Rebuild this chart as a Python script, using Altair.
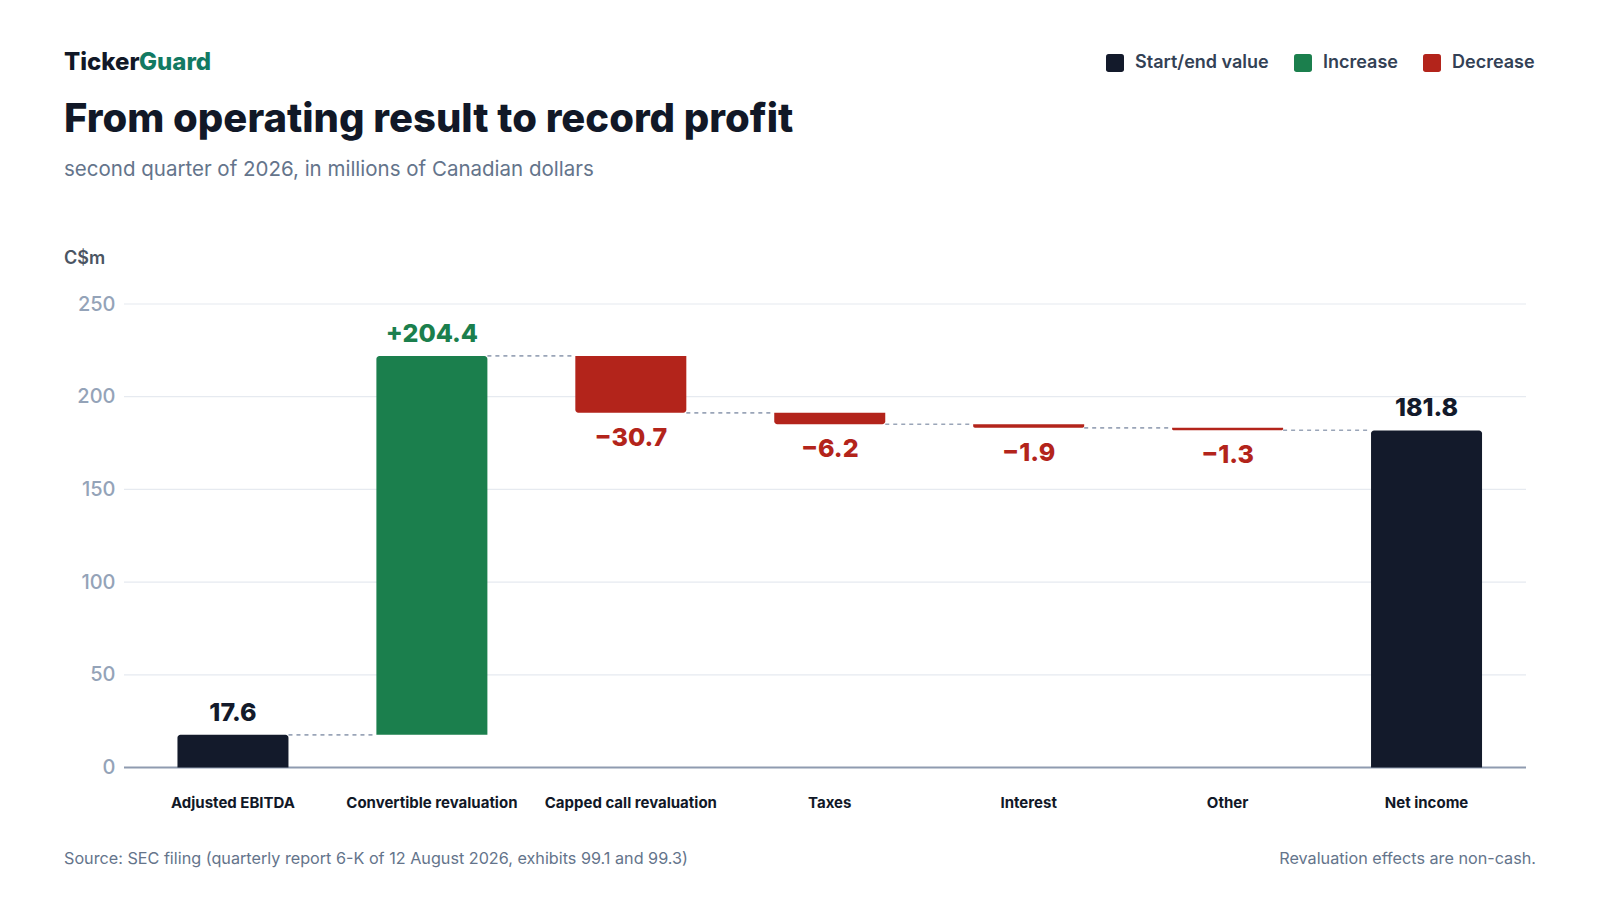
import altair as alt
import pandas as pd

# ---- data ----
categories = ["Adjusted EBITDA", "Convertible revaluation", "Capped call revaluation",
              "Taxes", "Interest", "Other", "Net income"]
amounts = [17.6, 204.4, -30.7, -6.2, -1.9, -1.3, 181.8]
kinds = ["Start/end value", "Increase", "Decrease", "Decrease", "Decrease", "Decrease",
         "Start/end value"]
labels = ["17.6", "+204.4", "\u221230.7", "\u22126.2", "\u22121.9", "\u22121.3", "181.8"]
y_ticks = [0, 50, 100, 150, 200, 250]

KIND_ORDER = ["Start/end value", "Increase", "Decrease"]
DARK, GREEN, RED = "#131a2b", "#1b7f4d", "#b3241b"
KIND_COLORS = [DARK, GREEN, RED]
FONT = "Inter"

rows = []
running = 0.0
for i, (c, a, k, l) in enumerate(zip(categories, amounts, kinds, labels)):
    if k == "Start/end value":
        start, end = 0.0, a
    else:
        start, end = running, running + a
    running = end
    rows.append(dict(cat=c, start=start, end=end, top=max(start, end),
                     bottom=min(start, end), kind=k, label=l,
                     next=categories[i + 1] if i + 1 < len(categories) else None))
df = pd.DataFrame(rows)
conn = df[df["next"].notna()].copy()
grid_df = pd.DataFrame({"v": y_ticks})

W, H = 1402, 463.5

xscale = alt.Scale(domain=categories, range=[9.5, W], paddingInner=0.442, paddingOuter=0.221)
yscale = alt.Scale(domain=[0, 250], nice=False)

x_axis = alt.Axis(title=None, labelAngle=0, ticks=False, domain=False, grid=False,
                  labelPadding=28, labelFontSize=15, labelFontWeight="bold",
                  labelColor="#111827", labelFont=FONT, labelLimit=400)
y_axis = alt.Axis(title=None, values=y_ticks, domain=False, ticks=False, grid=False,
                  labelPadding=9, labelFontSize=20, labelFontWeight=500,
                  labelColor="#94a3b8", labelFont=FONT)

ROUND_SQ = ("M -0.7 -1 L 0.7 -1 Q 1 -1 1 -0.7 L 1 0.7 Q 1 1 0.7 1 L -0.7 1 "
            "Q -1 1 -1 0.7 L -1 -0.7 Q -1 -1 -0.7 -1 Z")
legend = alt.Legend(title=None, orient="none", legendX=982, legendY=-250,
                    direction="horizontal", columns=3, symbolType=ROUND_SQ,
                    symbolSize=324, symbolStrokeWidth=0, labelFontSize=18,
                    labelFont=FONT, labelFontWeight=600, labelColor="#334155",
                    labelOffset=11, columnPadding=25)
color = alt.Color("kind:N", scale=alt.Scale(domain=KIND_ORDER, range=KIND_COLORS),
                  legend=legend)

gridlines = alt.Chart(grid_df).mark_rule().encode(
    y=alt.Y("v:Q", scale=yscale, axis=y_axis),
    x=alt.value(0),
    x2=alt.value(W),
    color=alt.condition(alt.datum.v == 0, alt.value("#8f9bb0"), alt.value("#e6eaf0")),
    strokeWidth=alt.condition(alt.datum.v == 0, alt.value(2), alt.value(1.2)),
)

base = alt.Chart(df)

bars_up = base.transform_filter(alt.datum.kind != "Decrease").mark_bar(
    cornerRadiusTopLeft=3, cornerRadiusTopRight=3
).encode(
    x=alt.X("cat:N", scale=xscale, axis=x_axis),
    y=alt.Y("start:Q", scale=yscale, axis=y_axis),
    y2="end:Q",
    color=color,
)

bars_down = base.transform_filter(alt.datum.kind == "Decrease").mark_bar(
    cornerRadiusBottomLeft=3, cornerRadiusBottomRight=3
).encode(
    x=alt.X("cat:N", scale=xscale, axis=x_axis),
    y=alt.Y("start:Q", scale=yscale, axis=y_axis),
    y2="end:Q",
    color=color,
)

connectors = alt.Chart(conn).mark_rule(
    color="#9aa5b8", strokeWidth=1.6, strokeDash=[4, 4]
).encode(
    x=alt.X("cat:N", scale=xscale, axis=x_axis, bandPosition=1),
    x2=alt.X2("next:N", bandPosition=0),
    y=alt.Y("end:Q", scale=yscale, axis=y_axis),
)

labels_up = base.transform_filter(alt.datum.kind != "Decrease").mark_text(
    font=FONT, fontSize=25, fontWeight=800, baseline="middle", dy=-22
).encode(
    x=alt.X("cat:N", scale=xscale, axis=x_axis),
    y=alt.Y("top:Q", scale=yscale, axis=y_axis),
    text="label:N",
    color=alt.condition(alt.datum.kind == "Increase", alt.value(GREEN), alt.value(DARK)),
)

labels_down = base.transform_filter(alt.datum.kind == "Decrease").mark_text(
    font=FONT, fontSize=25, fontWeight=800, baseline="middle", dy=25, color=RED
).encode(
    x=alt.X("cat:N", scale=xscale, axis=x_axis),
    y=alt.Y("bottom:Q", scale=yscale, axis=y_axis),
    text="label:N",
)


def note(text, x, y, size, color, weight="normal", align="left"):
    return alt.Chart(pd.DataFrame({"t": [text]})).mark_text(
        font=FONT, fontSize=size, fontWeight=weight, color=color,
        align=align, baseline="middle"
    ).encode(x=alt.value(x), y=alt.value(y), text="t:N")


notes = [
    note("Ticker", -60, -241, 24, "#111827", 800),
    note("Guard", 15, -241, 24, "#127a63", 800),
    note("From operating result to record profit", -60, -184, 40, "#111827", 800),
    note("second quarter of 2026, in millions of Canadian dollars", -60, -134, 20.5, "#64748b"),
    note("C$m", -60, -45, 18, "#4b5563", 600),
    note("Source: SEC filing (quarterly report 6-K of 12 August 2026, exhibits 99.1 and 99.3)",
         -60, 555, 16.2, "#64748b"),
    note("Revaluation effects are non-cash.", 1412, 555, 16.2, "#64748b", align="right"),
]

chart = alt.layer(gridlines, bars_up, bars_down, connectors, labels_up, labels_down,
                  *notes).properties(
    width=W, height=H,
    autosize=alt.AutoSizeParams(type="none"),
    padding={"left": 116, "top": 296, "right": 60, "bottom": 110},
).configure(font=FONT, background="white").configure_view(stroke=None)

chart.save("out.html", embed_options={"renderer": "svg", "actions": False})
